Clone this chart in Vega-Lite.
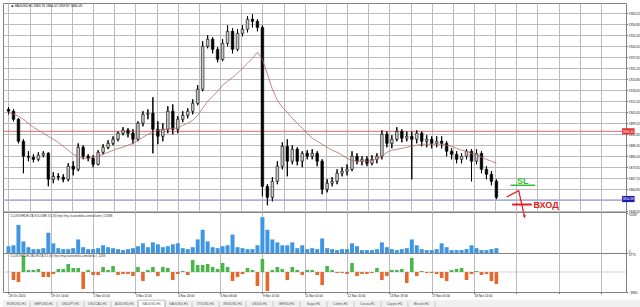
{
"$schema":"https://vega.github.io/schema/vega-lite/v6.json",
"background":"white",
"padding":{"left":1,"top":2,"right":0,"bottom":0},
"config":{"view":{"stroke":"#808080","strokeWidth":1},"font":"Liberation Sans","axis":{"gridColor":"#bcbcbc","gridWidth":1,"domain":false,"tickColor":"#666666","labelColor":"#111111","labelFont":"Liberation Sans","labelOverlap":false,"labelFlush":false}},
"datasets":{
"bars":[
{"h":0,"o":1907.2,"hi":1908.4,"lo":1904.3,"c":1906.1,"ma":1905.5,"v":11900,"d":0},
{"h":4,"o":1906.1,"hi":1907.2,"lo":1900.2,"c":1901.4,"ma":1904.3,"v":13600,"d":-1600},
{"h":8,"o":1901.4,"hi":1902.0,"lo":1887.4,"c":1888.6,"ma":1903.2,"v":49300,"d":-2000},
{"h":12,"o":1888.6,"hi":1889.8,"lo":1870.0,"c":1879.9,"ma":1901.4,"v":20400,"d":3200},
{"h":16,"o":1879.9,"hi":1882.8,"lo":1877.0,"c":1879.3,"ma":1899.1,"v":10200,"d":400},
{"h":20,"o":1879.3,"hi":1881.0,"lo":1876.4,"c":1878.1,"ma":1896.8,"v":6800,"d":400},
{"h":24,"o":1878.1,"hi":1882.2,"lo":1877.0,"c":1880.5,"ma":1895.0,"v":6800,"d":600},
{"h":28,"o":1880.5,"hi":1882.8,"lo":1879.3,"c":1881.6,"ma":1893.3,"v":8500,"d":-1000},
{"h":32,"o":1881.6,"hi":1882.2,"lo":1862.4,"c":1866.5,"ma":1891.5,"v":35700,"d":-1000},
{"h":36,"o":1866.5,"hi":1870.6,"lo":1864.2,"c":1868.2,"ma":1889.8,"v":17000,"d":-400},
{"h":40,"o":1868.2,"hi":1870.0,"lo":1865.9,"c":1867.7,"ma":1888.0,"v":8500,"d":600},
{"h":44,"o":1867.7,"hi":1869.4,"lo":1864.8,"c":1866.5,"ma":1885.7,"v":6800,"d":600},
{"h":48,"o":1866.5,"hi":1875.8,"lo":1865.3,"c":1874.1,"ma":1883.4,"v":6800,"d":1600},
{"h":52,"o":1874.1,"hi":1877.0,"lo":1868.8,"c":1872.3,"ma":1881.0,"v":8500,"d":800},
{"h":56,"o":1872.3,"hi":1887.4,"lo":1871.2,"c":1885.1,"ma":1879.9,"v":23800,"d":800},
{"h":60,"o":1885.1,"hi":1886.3,"lo":1878.1,"c":1879.9,"ma":1878.7,"v":10200,"d":-3400},
{"h":64,"o":1879.9,"hi":1881.0,"lo":1877.0,"c":1878.7,"ma":1878.7,"v":6800,"d":400},
{"h":68,"o":1878.7,"hi":1880.5,"lo":1873.5,"c":1875.2,"ma":1879.3,"v":6800,"d":-600},
{"h":72,"o":1875.2,"hi":1883.4,"lo":1874.6,"c":1882.2,"ma":1879.9,"v":8500,"d":-600},
{"h":76,"o":1882.2,"hi":1886.9,"lo":1881.0,"c":1885.1,"ma":1881.0,"v":13600,"d":1000},
{"h":80,"o":1885.1,"hi":1889.2,"lo":1884.0,"c":1887.4,"ma":1882.2,"v":10200,"d":400},
{"h":84,"o":1887.4,"hi":1891.5,"lo":1886.3,"c":1889.8,"ma":1883.4,"v":8500,"d":1200},
{"h":88,"o":1889.8,"hi":1894.4,"lo":1888.6,"c":1893.3,"ma":1884.5,"v":6800,"d":-600},
{"h":92,"o":1893.3,"hi":1896.8,"lo":1892.1,"c":1895.0,"ma":1885.1,"v":5100,"d":-400},
{"h":96,"o":1895.0,"hi":1896.2,"lo":1890.9,"c":1893.3,"ma":1886.3,"v":6800,"d":-400},
{"h":100,"o":1893.3,"hi":1895.6,"lo":1886.9,"c":1889.8,"ma":1887.4,"v":8500,"d":-800},
{"h":104,"o":1889.8,"hi":1900.2,"lo":1888.6,"c":1899.1,"ma":1889.2,"v":11900,"d":1000},
{"h":108,"o":1899.1,"hi":1906.1,"lo":1897.3,"c":1904.3,"ma":1890.9,"v":17000,"d":-1800},
{"h":112,"o":1904.3,"hi":1907.2,"lo":1901.4,"c":1904.9,"ma":1892.7,"v":10200,"d":400},
{"h":116,"o":1904.9,"hi":1914.2,"lo":1881.6,"c":1895.6,"ma":1893.8,"v":18700,"d":1000},
{"h":120,"o":1895.6,"hi":1900.2,"lo":1886.9,"c":1891.5,"ma":1895.0,"v":15300,"d":-800},
{"h":124,"o":1891.5,"hi":1899.1,"lo":1888.6,"c":1895.6,"ma":1895.6,"v":10200,"d":1000},
{"h":128,"o":1895.6,"hi":1909.0,"lo":1893.3,"c":1906.1,"ma":1895.6,"v":11900,"d":800},
{"h":132,"o":1906.1,"hi":1910.1,"lo":1892.7,"c":1895.6,"ma":1896.2,"v":15300,"d":-1600},
{"h":136,"o":1895.6,"hi":1903.2,"lo":1893.3,"c":1901.4,"ma":1896.2,"v":17000,"d":-400},
{"h":140,"o":1901.4,"hi":1906.1,"lo":1899.7,"c":1903.7,"ma":1897.9,"v":8500,"d":200},
{"h":144,"o":1903.7,"hi":1907.8,"lo":1902.0,"c":1906.1,"ma":1899.1,"v":6800,"d":-600},
{"h":148,"o":1906.1,"hi":1913.0,"lo":1904.3,"c":1910.7,"ma":1900.8,"v":10200,"d":2400},
{"h":152,"o":1910.7,"hi":1921.2,"lo":1909.6,"c":1918.9,"ma":1903.7,"v":23800,"d":1400},
{"h":156,"o":1918.9,"hi":1946.8,"lo":1917.7,"c":1943.9,"ma":1907.8,"v":40800,"d":1400},
{"h":160,"o":1943.9,"hi":1950.3,"lo":1942.7,"c":1948.0,"ma":1911.9,"v":20400,"d":1600},
{"h":164,"o":1948.0,"hi":1949.1,"lo":1939.8,"c":1942.1,"ma":1914.8,"v":10200,"d":1000},
{"h":168,"o":1942.1,"hi":1943.3,"lo":1934.6,"c":1936.3,"ma":1917.7,"v":8500,"d":600},
{"h":172,"o":1936.3,"hi":1948.0,"lo":1935.2,"c":1945.6,"ma":1921.2,"v":11900,"d":1800},
{"h":176,"o":1945.6,"hi":1956.1,"lo":1943.9,"c":1952.6,"ma":1923.5,"v":13600,"d":1000},
{"h":180,"o":1952.6,"hi":1954.4,"lo":1939.8,"c":1942.1,"ma":1925.8,"v":32300,"d":-1800},
{"h":184,"o":1942.1,"hi":1953.8,"lo":1941.0,"c":1951.4,"ma":1928.2,"v":10200,"d":-1000},
{"h":188,"o":1951.4,"hi":1956.1,"lo":1949.7,"c":1953.8,"ma":1931.1,"v":8500,"d":-400},
{"h":192,"o":1953.8,"hi":1961.3,"lo":1952.0,"c":1959.6,"ma":1934.0,"v":6800,"d":800},
{"h":196,"o":1959.6,"hi":1962.5,"lo":1954.9,"c":1958.4,"ma":1936.9,"v":6800,"d":400},
{"h":200,"o":1958.4,"hi":1959.6,"lo":1952.6,"c":1954.9,"ma":1940.4,"v":13600,"d":-2800},
{"h":204,"o":1954.9,"hi":1956.1,"lo":1856.6,"c":1862.4,"ma":1936.3,"v":62900,"d":2600},
{"h":208,"o":1862.4,"hi":1863.6,"lo":1851.4,"c":1856.0,"ma":1927.6,"v":40800,"d":-3800},
{"h":212,"o":1856.0,"hi":1867.7,"lo":1853.7,"c":1865.3,"ma":1918.9,"v":23800,"d":400},
{"h":216,"o":1865.3,"hi":1877.0,"lo":1863.6,"c":1874.1,"ma":1912.5,"v":18700,"d":1000},
{"h":220,"o":1874.1,"hi":1888.0,"lo":1872.3,"c":1885.7,"ma":1908.4,"v":13600,"d":600},
{"h":224,"o":1885.7,"hi":1889.8,"lo":1868.2,"c":1877.0,"ma":1905.5,"v":13600,"d":-1600},
{"h":228,"o":1877.0,"hi":1886.3,"lo":1875.2,"c":1884.0,"ma":1902.0,"v":18700,"d":1000},
{"h":232,"o":1884.0,"hi":1885.1,"lo":1874.6,"c":1877.0,"ma":1899.1,"v":8500,"d":400},
{"h":236,"o":1877.0,"hi":1882.8,"lo":1873.5,"c":1881.6,"ma":1896.2,"v":13600,"d":-600},
{"h":240,"o":1881.6,"hi":1883.4,"lo":1878.1,"c":1879.9,"ma":1893.3,"v":6800,"d":400},
{"h":244,"o":1879.9,"hi":1884.0,"lo":1878.1,"c":1881.6,"ma":1890.4,"v":8500,"d":400},
{"h":248,"o":1881.6,"hi":1882.8,"lo":1874.1,"c":1877.0,"ma":1888.6,"v":6800,"d":-600},
{"h":252,"o":1877.0,"hi":1878.1,"lo":1857.8,"c":1860.7,"ma":1886.9,"v":25500,"d":-2600},
{"h":256,"o":1860.7,"hi":1866.5,"lo":1858.9,"c":1864.2,"ma":1885.1,"v":8500,"d":1200},
{"h":260,"o":1864.2,"hi":1867.7,"lo":1862.4,"c":1865.3,"ma":1883.4,"v":6800,"d":400},
{"h":264,"o":1865.3,"hi":1872.3,"lo":1863.6,"c":1870.0,"ma":1882.2,"v":5100,"d":-200},
{"h":268,"o":1870.0,"hi":1873.5,"lo":1868.2,"c":1871.2,"ma":1880.5,"v":6800,"d":-200},
{"h":272,"o":1871.2,"hi":1875.2,"lo":1868.8,"c":1872.3,"ma":1878.7,"v":6800,"d":-400},
{"h":276,"o":1872.3,"hi":1882.8,"lo":1871.2,"c":1879.9,"ma":1877.5,"v":17000,"d":1800},
{"h":280,"o":1879.9,"hi":1881.6,"lo":1875.2,"c":1877.0,"ma":1877.0,"v":11900,"d":-800},
{"h":284,"o":1877.0,"hi":1879.9,"lo":1874.6,"c":1878.1,"ma":1877.0,"v":5100,"d":-400},
{"h":288,"o":1878.1,"hi":1879.9,"lo":1874.1,"c":1875.8,"ma":1877.0,"v":5100,"d":-400},
{"h":292,"o":1875.8,"hi":1880.5,"lo":1874.6,"c":1878.1,"ma":1877.5,"v":5100,"d":-200},
{"h":296,"o":1878.1,"hi":1881.6,"lo":1875.8,"c":1879.9,"ma":1878.1,"v":6800,"d":800},
{"h":300,"o":1879.9,"hi":1895.0,"lo":1878.1,"c":1892.7,"ma":1879.9,"v":18700,"d":-1600},
{"h":304,"o":1892.7,"hi":1894.4,"lo":1885.1,"c":1887.4,"ma":1882.2,"v":10200,"d":-800},
{"h":308,"o":1887.4,"hi":1892.1,"lo":1884.5,"c":1889.8,"ma":1883.4,"v":6800,"d":400},
{"h":312,"o":1889.8,"hi":1896.8,"lo":1888.6,"c":1894.4,"ma":1883.9,"v":5100,"d":400},
{"h":316,"o":1894.4,"hi":1895.6,"lo":1888.0,"c":1890.4,"ma":1884.5,"v":6800,"d":600},
{"h":320,"o":1890.4,"hi":1894.4,"lo":1888.6,"c":1891.5,"ma":1885.1,"v":8500,"d":-2200},
{"h":324,"o":1891.5,"hi":1894.4,"lo":1866.5,"c":1889.8,"ma":1885.7,"v":23800,"d":2800},
{"h":328,"o":1889.8,"hi":1895.0,"lo":1887.4,"c":1893.3,"ma":1886.3,"v":13600,"d":-800},
{"h":332,"o":1893.3,"hi":1894.4,"lo":1885.7,"c":1888.6,"ma":1886.9,"v":6800,"d":200},
{"h":336,"o":1888.6,"hi":1892.1,"lo":1885.1,"c":1889.8,"ma":1886.9,"v":5100,"d":-200},
{"h":340,"o":1889.8,"hi":1891.5,"lo":1884.5,"c":1887.4,"ma":1886.9,"v":5100,"d":-200},
{"h":344,"o":1887.4,"hi":1891.5,"lo":1885.1,"c":1888.6,"ma":1886.9,"v":6800,"d":-400},
{"h":348,"o":1888.6,"hi":1891.5,"lo":1884.5,"c":1887.4,"ma":1886.9,"v":17000,"d":-1200},
{"h":352,"o":1887.4,"hi":1888.6,"lo":1879.9,"c":1882.8,"ma":1886.3,"v":10200,"d":-1800},
{"h":356,"o":1882.8,"hi":1884.5,"lo":1878.1,"c":1881.0,"ma":1885.7,"v":5100,"d":400},
{"h":360,"o":1881.0,"hi":1882.8,"lo":1875.8,"c":1878.1,"ma":1884.5,"v":5100,"d":600},
{"h":364,"o":1878.1,"hi":1881.6,"lo":1875.8,"c":1879.9,"ma":1883.4,"v":5100,"d":800},
{"h":368,"o":1879.9,"hi":1884.0,"lo":1878.1,"c":1882.8,"ma":1882.8,"v":6800,"d":-1600},
{"h":372,"o":1882.8,"hi":1884.0,"lo":1865.3,"c":1877.0,"ma":1881.6,"v":13600,"d":-400},
{"h":376,"o":1877.0,"hi":1884.0,"lo":1875.2,"c":1881.6,"ma":1881.0,"v":8500,"d":200},
{"h":380,"o":1881.6,"hi":1882.8,"lo":1870.0,"c":1872.3,"ma":1879.3,"v":5100,"d":-600},
{"h":384,"o":1872.3,"hi":1874.1,"lo":1866.5,"c":1869.4,"ma":1878.1,"v":5100,"d":-400},
{"h":388,"o":1869.4,"hi":1871.2,"lo":1863.0,"c":1865.3,"ma":1877.0,"v":6800,"d":-1800},
{"h":392,"o":1865.3,"hi":1866.5,"lo":1854.9,"c":1856.0,"ma":1875.8,"v":8500,"d":-2400}
],
"tabs":[{"tab":"EURUSD,H1"},{"tab":"GBPUSD,H1"},{"tab":"USDJPY,H1"},{"tab":"USDCAD,H1"},{"tab":"AUDUSD,H1"},{"tab":"XAUUSD,H1"},{"tab":"XAGUSD,H1"},{"tab":"XTIUSD,H1"},{"tab":"XNGUSD,H1"},{"tab":"US500,H1"},{"tab":"GER30,H1"},{"tab":"Sugar,H1"},{"tab":"Coffee,H1"},{"tab":"Cocoa,H1"},{"tab":"Copper,H1"},{"tab":"Bitcoin,H1"}]
},
"spacing":0,
"bounds":"flush",
"vconcat":[
{"width":623,"height":209,
"encoding":{
"x":{"field":"h","type":"quantitative","scale":{"domain":[-0.4,492.1],"nice":false,"zero":false},"axis":{"values":[0,17,34,51,68,85,102,119,136,153,170,187,204,221,238,255,272,289,306,323,340,357,374,391,408,425,442,459,476],"labels":false,"ticks":false,"domain":false,"grid":true,"title":null}},
"y":{"field":"lo","type":"quantitative","scale":{"domain":[1847.45,1969.07],"nice":false,"zero":false},"axis":{"orient":"right","values":[1963.25,1956.85,1950.45,1944.05,1937.65,1931.25,1924.85,1918.45,1912.05,1905.65,1899.25,1892.85,1886.45,1880.05,1873.65,1867.25,1860.85,1848.05],"format":".2f","grid":true,"labelFontSize":3.1,"labelPadding":0.8,"tickSize":1.5,"title":null}}
},
"layer":[
{"data":{"name":"bars"},"mark":{"type":"rule","color":"#000000","strokeWidth":1,"clip":true},
"encoding":{"y2":{"field":"hi"}}},
{"data":{"values":[{"lvl":1854.45}]},"mark":{"type":"rule","color":"#bcbcbc","strokeWidth":1},
"encoding":{"x":{"value":0},"x2":{"value":623},"y":{"field":"lvl","type":"quantitative"}}},
{"data":{"values":[{"lvl":1894.4}]},"mark":{"type":"rule","color":"#d65a5a","strokeWidth":0.9},
"encoding":{"x":{"value":0},"x2":{"value":623},"y":{"field":"lvl","type":"quantitative"}}},
{"data":{"values":[{"lvl":1854.3}]},"mark":{"type":"rule","color":"#a9aee0","strokeWidth":1.4},
"encoding":{"x":{"value":0},"x2":{"value":623},"y":{"field":"lvl","type":"quantitative"}}},
{"data":{"name":"bars"},"mark":{"type":"rule","color":"#000000","strokeWidth":1,"clip":true},
"encoding":{"y2":{"field":"hi"}}},
{"data":{"name":"bars"},"mark":{"type":"bar","size":2.6,"stroke":"#000000","strokeWidth":0.6,"clip":true},
"encoding":{"y":{"field":"o","type":"quantitative"},"y2":{"field":"c"},
"fill":{"condition":{"test":"datum.c >= datum.o","value":"#c8c8c8"},"value":"#000000"}}},
{"data":{"name":"bars"},"mark":{"type":"line","color":"#b86868","strokeWidth":0.8,"clip":true},
"encoding":{"y":{"field":"ma","type":"quantitative"}}},
{"data":{"values":[{"h":2.5,"p":1967.4}]},"mark":{"type":"text","align":"left","baseline":"middle","fontSize":3.2,"color":"#000000","text":"■ XAUUSD,H1  1863.76 1864.07 1859.87 1860.49"},
"encoding":{"y":{"field":"p","type":"quantitative"}}},
{"data":{"values":[{"h":400.2,"p":1856.2},{"h":409.9,"p":1859.9},{"h":414.4,"p":1845.4}]},"mark":{"type":"line","color":"#e02020","strokeWidth":1.3,"clip":false},
"encoding":{"y":{"field":"p","type":"quantitative"}}},
{"data":{"values":[{"h":414.5,"p":1844.7}]},"mark":{"type":"point","shape":"triangle-down","filled":true,"size":12,"color":"#e02020","opacity":1,"clip":false},
"encoding":{"y":{"field":"p","type":"quantitative"}}},
{"data":{"values":[{"h":404.6,"h2":420.4,"p":1851.8}]},"mark":{"type":"rule","color":"#e02020","strokeWidth":2,"clip":false},
"encoding":{"x2":{"field":"h2"},"y":{"field":"p","type":"quantitative"}}},
{"data":{"values":[{"h":421.7,"p":1851.8}]},"mark":{"type":"text","align":"left","baseline":"middle","fontSize":9,"fontWeight":"bold","font":"Liberation Sans","color":"#e02020","text":"ВХОД","clip":false},
"encoding":{"y":{"field":"p","type":"quantitative"}}},
{"data":{"values":[{"h":403.3,"h2":423.1,"p":1863.0}]},"mark":{"type":"rule","color":"#33bb33","strokeWidth":1.5,"clip":false},
"encoding":{"x2":{"field":"h2"},"y":{"field":"p","type":"quantitative"}}},
{"data":{"values":[{"h":413.2,"p":1865.6}]},"mark":{"type":"text","align":"center","baseline":"middle","fontSize":9,"fontWeight":"bold","font":"Liberation Sans","color":"#33bb33","text":"SL","clip":false},
"encoding":{"y":{"field":"p","type":"quantitative"}}},
{"data":{"values":[{"h":493,"h2":503,"p":1896.2,"p2":1892.6}]},"mark":{"type":"rect","color":"#e03030","clip":false},
"encoding":{"x2":{"field":"h2"},"y":{"field":"p","type":"quantitative"},"y2":{"field":"p2"}}},
{"data":{"values":[{"h":497.9,"p":1894.4}]},"mark":{"type":"text","align":"center","baseline":"middle","fontSize":3.1,"color":"#ffffff","text":"1894.40","clip":false},
"encoding":{"y":{"field":"p","type":"quantitative"}}},
{"data":{"values":[{"h":493,"h2":503,"p":1856.8,"p2":1853.2}]},"mark":{"type":"rect","color":"#1c1caa","clip":false},
"encoding":{"x2":{"field":"h2"},"y":{"field":"p","type":"quantitative"},"y2":{"field":"p2"}}},
{"data":{"values":[{"h":497.9,"p":1855.0}]},"mark":{"type":"text","align":"center","baseline":"middle","fontSize":3.1,"color":"#ffffff","text":"1854.38","clip":false},
"encoding":{"y":{"field":"p","type":"quantitative"}}}
]},
{"width":623,"height":41,
"layer":[
{"data":{"name":"bars"},"mark":{"type":"bar","size":4,"color":"#3f97e3"},
"encoding":{"x":{"field":"h","type":"quantitative","scale":{"domain":[-0.4,492.1],"nice":false,"zero":false},"axis":{"values":[0,17,34,51,68,85,102,119,136,153,170,187,204,221,238,255,272,289,306,323,340,357,374,391,408,425,442,459,476],"labels":false,"ticks":false,"domain":false,"grid":true,"title":null}},
"y":{"field":"v","type":"quantitative","scale":{"domain":[0,72000],"nice":false},"axis":{"orient":"right","values":[0,70287],"format":"d","grid":false,"labelFontSize":3.1,"labelPadding":0.8,"tickSize":1.5,"title":null,"labelBaseline":{"condition":{"test":"datum.value == 0","value":"bottom"},"value":"top"}}}}},
{"data":{"values":[{}]},"mark":{"type":"text","align":"left","baseline":"middle","fontSize":3,"color":"#333333","text":"CLUSTERDELTA VOLUME 3.5 (8) http://my.clusterdelta.com/volume | 10388"},
"encoding":{"x":{"datum":1.5,"type":"quantitative"},"y":{"datum":66200,"type":"quantitative"}}}
]},
{"width":623,"height":39,
"layer":[
{"data":{"name":"bars"},"mark":{"type":"bar","size":3.6},
"encoding":{"x":{"field":"h","type":"quantitative","scale":{"domain":[-0.4,492.1],"nice":false,"zero":false},"axis":{"values":[0,17,34,51,68,85,102,119,136,153,170,187,204,221,238,255,272,289,306,323,340,357,374,391,408,425,442,459,476],"labelExpr":"['28 Oct 2020','28 Oct 21:00','29 Oct 14:00','30 Oct 07:00','2 Nov 01:00','2 Nov 18:00','3 Nov 11:00','4 Nov 04:00','4 Nov 20:00','5 Nov 13:00','6 Nov 06:00','6 Nov 22:00','9 Nov 15:00','10 Nov 08:00','11 Nov 01:00','11 Nov 17:00','12 Nov 10:00','13 Nov 03:00','13 Nov 19:00','16 Nov 12:00','17 Nov 05:00','17 Nov 21:00','18 Nov 14:00','19 Nov 07:00'][round(datum.value/17)] || ''","labelFontSize":3,"labelAlign":"left","labelBaseline":"top","labelPadding":0.5,"tickSize":1.5,"ticks":true,"grid":true,"domain":false,"title":null}},
"y":{"field":"d","type":"quantitative","scale":{"domain":[-4000,3800],"nice":false},"axis":{"orient":"right","values":[3775,0,-3965],"labelExpr":"datum.value == 0 ? '0.00' : format(datum.value, 'd')","grid":false,"labelFontSize":3.1,"labelPadding":0.8,"tickSize":1.5,"title":null,"labelBaseline":{"condition":{"test":"datum.value > 0","value":"top"},"value":"middle"}}},
"fill":{"condition":{"test":"datum.d >= 0","value":"#45b845"},"value":"#e8672c"}}},
{"data":{"values":[{}]},"mark":{"type":"rule","color":"#8a8a8a","strokeWidth":0.7,"strokeDash":[1,1]},
"encoding":{"y":{"datum":0,"type":"quantitative"}}},
{"data":{"values":[{}]},"mark":{"type":"text","align":"left","baseline":"middle","fontSize":3,"color":"#333333","text":"CLUSTERDELTA DELTA 3.5 (8) http://my.clusterdelta.com/delta | -1268"},
"encoding":{"x":{"datum":1.5,"type":"quantitative"},"y":{"datum":3200,"type":"quantitative"}}}
]},
{"width":640,"height":16.5,"view":{"fill":null,"stroke":null},
"layer":[
{"data":{"values":[{}]},"mark":{"type":"rect","color":"#f0f0f0"},
"encoding":{"y":{"datum":0,"type":"quantitative","scale":{"domain":[0,16.5],"nice":false},"axis":null},"y2":{"datum":8.5}}},
{"data":{"name":"tabs"},"transform":[{"filter":"datum.tab === 'XAUUSD,H1'"}],"mark":{"type":"bar","fill":"#ffffff","stroke":"#9a9a9a","strokeWidth":0.6},
"encoding":{"x":{"field":"tab","type":"nominal","scale":{"domain":["EURUSD,H1","GBPUSD,H1","USDJPY,H1","USDCAD,H1","AUDUSD,H1","XAUUSD,H1","XAGUSD,H1","XTIUSD,H1","XNGUSD,H1","US500,H1","GER30,H1","Sugar,H1","Coffee,H1","Cocoa,H1","Copper,H1","Bitcoin,H1"],"range":[0,432],"paddingInner":0,"paddingOuter":0},"axis":null},
"y":{"datum":0.3,"type":"quantitative"},"y2":{"datum":8.3}}},
{"data":{"name":"tabs"},"mark":{"type":"rule","color":"#b0b0b0","strokeWidth":0.6},
"encoding":{"x":{"field":"tab","type":"nominal","bandPosition":1},"y":{"datum":1.5,"type":"quantitative"},"y2":{"datum":7}}},
{"data":{"name":"tabs"},"mark":{"type":"text","fontSize":3.3,"color":"#555555","baseline":"middle"},
"encoding":{"x":{"field":"tab","type":"nominal"},"y":{"datum":4.2,"type":"quantitative"},"text":{"field":"tab"}}}
]}
]
}
